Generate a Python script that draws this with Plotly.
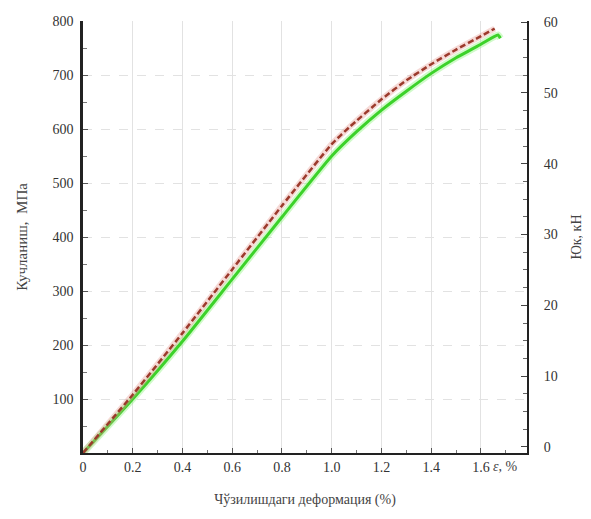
import plotly.graph_objects as go

# Data
strain_red = [0, 0.2, 0.4, 0.6, 0.8, 1.0, 1.07, 1.2, 1.3, 1.4, 1.5, 1.6, 1.655]
stress_red = [0, 108, 222, 340, 458, 572, 603, 655, 690, 720, 747, 772, 786]
strain_green = [0, 0.2, 0.4, 0.6, 0.8, 1.0, 1.1, 1.2, 1.3, 1.4, 1.5, 1.6, 1.668, 1.678]
stress_green = [0, 100, 207, 322, 437, 550, 595, 635, 670, 703, 732, 757, 774, 768]

x_ticks = [0, 0.2, 0.4, 0.6, 0.8, 1.0, 1.2, 1.4, 1.6]
x_labels = ["0", "0.2", "0.4", "0.6", "0.8", "1.0", "1.2", "1.4", "1.6"]
y_ticks = [100, 200, 300, 400, 500, 600, 700, 800]
y2_ticks = [0, 10, 20, 30, 40, 50, 60]

FONT = "Liberation Serif"

fig = go.Figure()
fig.add_trace(go.Scatter(x=strain_green, y=stress_green, mode="lines",
                         line=dict(color="rgba(120,240,100,0.35)", width=7, shape="spline", smoothing=0.5),
                         hoverinfo="skip", showlegend=False))
fig.add_trace(go.Scatter(x=strain_green, y=stress_green, mode="lines",
                         line=dict(color="#3cd22a", width=3, shape="spline", smoothing=0.5),
                         showlegend=False))
fig.add_trace(go.Scatter(x=strain_red, y=stress_red, mode="lines",
                         line=dict(color="rgba(230,150,140,0.35)", width=6, shape="spline", smoothing=0.5),
                         hoverinfo="skip", showlegend=False))
fig.add_trace(go.Scatter(x=strain_red, y=stress_red, mode="lines",
                         line=dict(color="#9c3a2c", width=2.5, dash="6px,3px", shape="spline", smoothing=0.5),
                         showlegend=False))
# invisible trace for right axis
fig.add_trace(go.Scatter(x=[0], y=[0], yaxis="y2", mode="markers",
                         marker=dict(opacity=0), hoverinfo="skip", showlegend=False))

fig.update_layout(
    width=583, height=511,
    margin=dict(l=75, r=64, t=13, b=66, autoexpand=False),
    showlegend=False,
    paper_bgcolor="white", plot_bgcolor="white",
    font=dict(family=FONT, size=14, color="#333"),
    xaxis=dict(range=[0, 1.785], tickvals=x_ticks, ticktext=x_labels, automargin=False,
               showline=True, linecolor="#222", linewidth=2,
               ticks="inside", ticklen=5, tickcolor="#555",
               minor=dict(dtick=0.1, ticks="inside", ticklen=3, tickcolor="#777", showgrid=False),
               showgrid=True, gridcolor="#e2e2e2", gridwidth=1, zeroline=False,
               title=dict(text="Чўзилишдаги деформация (%)", font=dict(size=14, color="#444"), standoff=20)),
    yaxis=dict(range=[0, 800], tickvals=y_ticks, automargin=False, ticklabelstandoff=4,
               showline=True, linecolor="#222", linewidth=2.5,
               ticks="inside", ticklen=5, tickcolor="#555",
               minor=dict(dtick=50, ticks="inside", ticklen=4, tickcolor="#777", showgrid=False),
               showgrid=True, gridcolor="#e2e2e2", gridwidth=1, griddash="dash", zeroline=False,
               title=dict(text="Кучланиш,  МПа", font=dict(size=15, color="#444"), standoff=22)),
    yaxis2=dict(range=[-0.85, 60.15], tickvals=y2_ticks, overlaying="y", side="right",
                automargin=False, ticklabelstandoff=12,
                showline=True, linecolor="#222", linewidth=2,
                ticks="inside", ticklen=6, tickcolor="#444",
                minor=dict(dtick=2.5, ticks="inside", ticklen=4, tickcolor="#666"),
                showgrid=False, zeroline=False,
                title=dict(text="Юк, кН", font=dict(size=14, color="#444"), standoff=14)),
    annotations=[dict(x=1.70, y=0, xref="x", yref="paper", yanchor="middle", yshift=-13,
                      showarrow=False,
                      text="<i>ε</i>, %", font=dict(family=FONT, size=14, color="#444"))],
)

fig.write_html("out.html")
